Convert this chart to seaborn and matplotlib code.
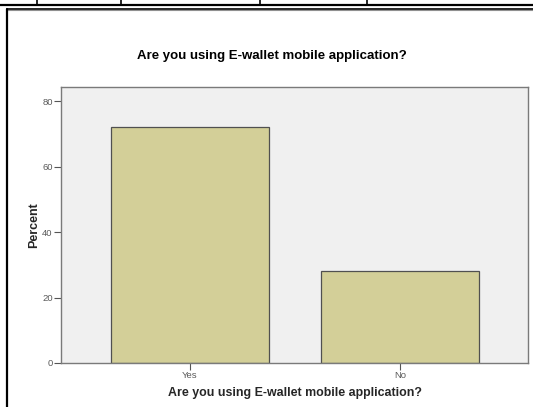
import matplotlib
matplotlib.use("Agg")
import pandas as pd
import seaborn as sns
from matplotlib import pyplot as plt
from matplotlib.lines import Line2D

# data
answers = ["Yes", "No"]
percent = [72.0, 28.0]
y_ticks = [0, 20, 40, 60, 80]
question = "Are you using E-wallet mobile application?"

BAR_COLOR = "#d3cf98"
BG_COLOR = "#f0f0f0"
TICK_GREY = "#5a5a5a"

sns.set_style("white")
plt.rcParams["font.family"] = ["Liberation Sans", "DejaVu Sans"]

df = pd.DataFrame({"answer": answers, "percent": percent})

fig = plt.figure(figsize=(5.33, 4.07), dpi=100)
ax = fig.add_axes([61 / 533, 1 - 363 / 407, 467 / 533, 276 / 407])

sns.barplot(data=df, x="answer", y="percent", order=answers, color=BAR_COLOR,
            width=0.75, edgecolor="#505050", linewidth=0.9, saturation=1, ax=ax)

ax.set_facecolor(BG_COLOR)
ax.set_xlim(-0.614, 1.610)
ax.set_ylim(0, 84.3)
ax.set_yticks(y_ticks)
for side in ax.spines.values():
    side.set_color("#7a7a7a")
    side.set_linewidth(1.0)

ax.tick_params(axis="both", bottom=True, left=True, length=5, width=0.8,
               color="#555555", labelsize=6.8, labelcolor=TICK_GREY, pad=1)
ax.set_ylabel("Percent", fontsize=9, fontweight="bold", labelpad=1.5)
ax.set_xlabel(question, fontsize=8.9, fontweight="bold", labelpad=4.5)

fig.text(272 / 533, 1 - 56 / 407, question, fontsize=9.5, fontweight="bold",
         color="black", ha="center", va="center")

# page decorations around the chart (table rule above, frame border)
fig.add_artist(Line2D([0, 1], [1 - 4.5 / 407] * 2, color="black", lw=1.6))
for xv in [37, 121, 260, 367]:
    fig.add_artist(Line2D([xv / 533] * 2, [1 - 4.5 / 407, 1], color="black", lw=1.2))
fig.add_artist(Line2D([7 / 533, 1], [1 - 8.5 / 407] * 2, color="black", lw=1.2))
fig.add_artist(Line2D([7 / 533, 1], [1 - 10 / 407] * 2, color="#909090", lw=0.8))
fig.add_artist(Line2D([7 / 533] * 2, [0, 1 - 8.5 / 407], color="black", lw=1.6))

fig.savefig("out.png", dpi=100)
